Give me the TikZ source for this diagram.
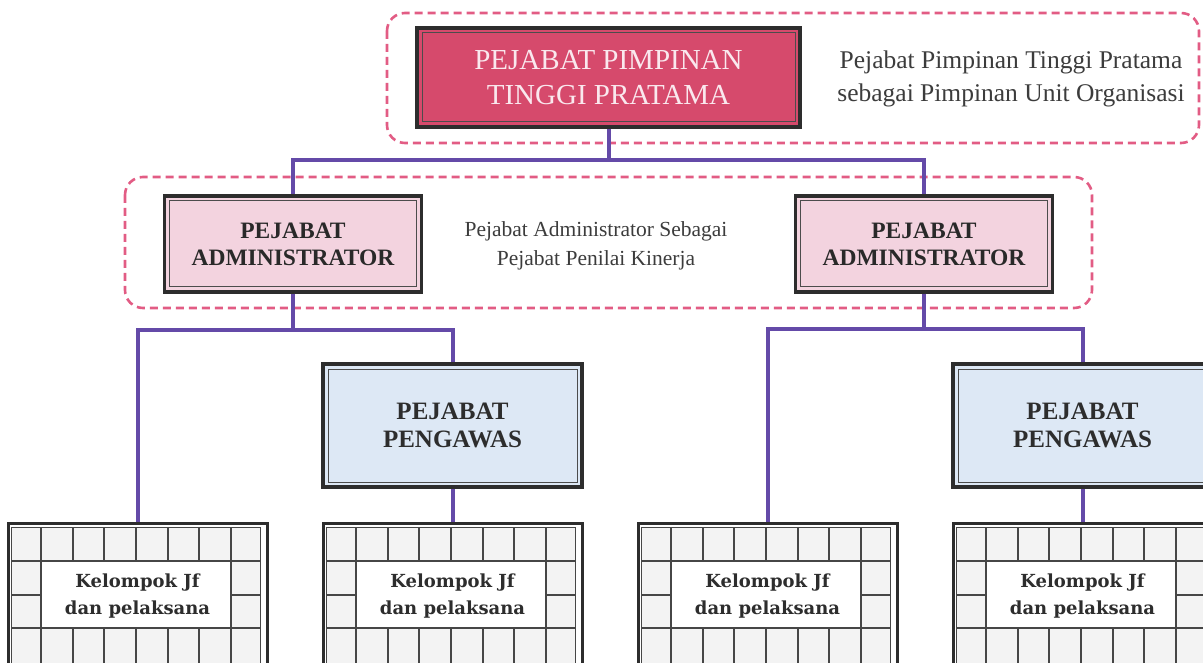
\documentclass[tikz,border=0pt]{standalone}
\usepackage{fontspec}
\setmainfont{Liberation Serif}
\newfontfamily\slabfont{DejaVu Serif}
\usetikzlibrary{calc}

\definecolor{linkpurple}{RGB}{100,74,168}
\definecolor{dashpink}{RGB}{226,92,132}
\definecolor{headred}{RGB}{214,74,108}
\definecolor{admpink}{RGB}{243,211,223}
\definecolor{supblue}{RGB}{221,232,245}
\definecolor{framedark}{RGB}{45,45,45}
\definecolor{cellgray}{RGB}{243,243,243}
\definecolor{gridgray}{RGB}{70,70,70}
\definecolor{notegray}{RGB}{60,60,60}
\definecolor{headtext}{RGB}{250,232,238}

% cell pattern of a working-group box, drawn from its north west corner
\newcommand\jfgrid[1]{%
  \begin{scope}[shift={(#1.north west)}]
    \fill[cellgray,even odd rule] (5,5) rectangle (254,141) (34.5,39) rectangle (224.5,106.3);
    \draw[gridgray,line width=1pt] (5,5) rectangle (254,141);
    \draw[gridgray,line width=1.8pt] (5,39) -- (254,39) (5,106.3) -- (254,106.3)
         (5,73) -- (34.5,73) (224.5,73) -- (254,73)
         (34.5,39) -- (34.5,106.3) (224.5,39) -- (224.5,106.3);
    \foreach \i in {0,...,6}{
      \draw[gridgray,line width=1.8pt] ({34.5+31.67*\i},5) -- ({34.5+31.67*\i},39)
           ({34.5+31.67*\i},106.3) -- ({34.5+31.67*\i},141);
    }
  \end{scope}%
}

\tikzset{
  link/.style={draw=linkpurple,line width=4pt},
  groupframe/.style={draw=dashpink,line width=2.6pt,dash pattern=on 8pt off 5pt,rounded corners=18pt},
  unitbox/.style={draw=framedark,line width=3.5pt,inner sep=0pt,align=center,
    path picture={\draw[framedark!85,line width=1pt]
      ([shift={(5pt,-5pt)}]path picture bounding box.north west) rectangle
      ([shift={(-5pt,5pt)}]path picture bounding box.south east);}},
  headbox/.style={unitbox,fill=headred,minimum width=383,minimum height=99,
    text=headtext,font=\fontsize{29}{35}\selectfont},
  admbox/.style={unitbox,fill=admpink,minimum width=257,minimum height=96,
    text=framedark!90!black,font=\fontsize{23.5}{27}\selectfont\bfseries},
  supbox/.style={unitbox,fill=supblue,minimum width=259,minimum height=123,
    text=framedark,font=\fontsize{25}{28}\selectfont\bfseries},
  jfbox/.style={draw=framedark,line width=3pt,fill=white,inner sep=0pt,align=center,
    minimum width=259,minimum height=145,anchor=north,
    text=framedark,font=\slabfont\bfseries\fontsize{18}{27}\selectfont},
  note/.style={align=center,text=notegray,inner sep=0pt}
}

\begin{document}
\begin{tikzpicture}[x=1pt,y=-1pt]
  \useasboundingbox (0,0) rectangle (1203,663);
  \clip (0,0) rectangle (1203,663);

  % dashed group frames
  \draw[groupframe] (387,13) rectangle (1199,143);
  \draw[groupframe] (125,177) rectangle (1092,308);

  % units
  \node[headbox] (head) at (608.5,77.5) {PEJABAT PIMPINAN\\TINGGI PRATAMA};
  \node[admbox] (adm1) at (293,244) {PEJABAT\\ADMINISTRATOR};
  \node[admbox] (adm2) at (924,244) {PEJABAT\\ADMINISTRATOR};
  \node[supbox] (sup1) at (452.5,425.5) {PEJABAT\\PENGAWAS};
  \node[supbox] (sup2) at (1082.5,425.5) {PEJABAT\\PENGAWAS};
  \node[jfbox] (jf1) at (137.5,522) {Kelompok Jf\\dan pelaksana};
  \node[jfbox] (jf2) at (452.5,522) {Kelompok Jf\\dan pelaksana};
  \node[jfbox] (jf3) at (767.5,522) {Kelompok Jf\\dan pelaksana};
  \node[jfbox] (jf4) at (1082.5,522) {Kelompok Jf\\dan pelaksana};
  \jfgrid{jf1}
  \jfgrid{jf2}
  \jfgrid{jf3}
  \jfgrid{jf4}

  % notes
  \node[note,font=\fontsize{25.5}{33}\selectfont] (note1) at (1011,79)
    {Pejabat Pimpinan Tinggi Pratama\\sebagai Pimpinan Unit Organisasi};
  \node[note,font=\fontsize{21.5}{29}\selectfont] (note2) at (596,246)
    {Pejabat Administrator Sebagai\\Pejabat Penilai Kinerja};

  % connectors
  \coordinate (hubtop) at (608.5,160);
  \coordinate (hubleft) at (293,330);
  \coordinate (hubright) at (924,329);
  \draw[link] (head.south) -- (hubtop);
  \draw[link] (adm1.north) |- (hubtop) -| (adm2.north);
  \draw[link] (adm1.south) -- (hubleft);
  \draw[link] (jf1.north) |- (hubleft) -| (sup1.north);
  \draw[link] (sup1.south) -- (jf2.north);
  \draw[link] (adm2.south) -- (hubright);
  \draw[link] (jf3.north) |- (hubright) -| (sup2.north);
  \draw[link] (sup2.south) -- (jf4.north);
\end{tikzpicture}
\end{document}
